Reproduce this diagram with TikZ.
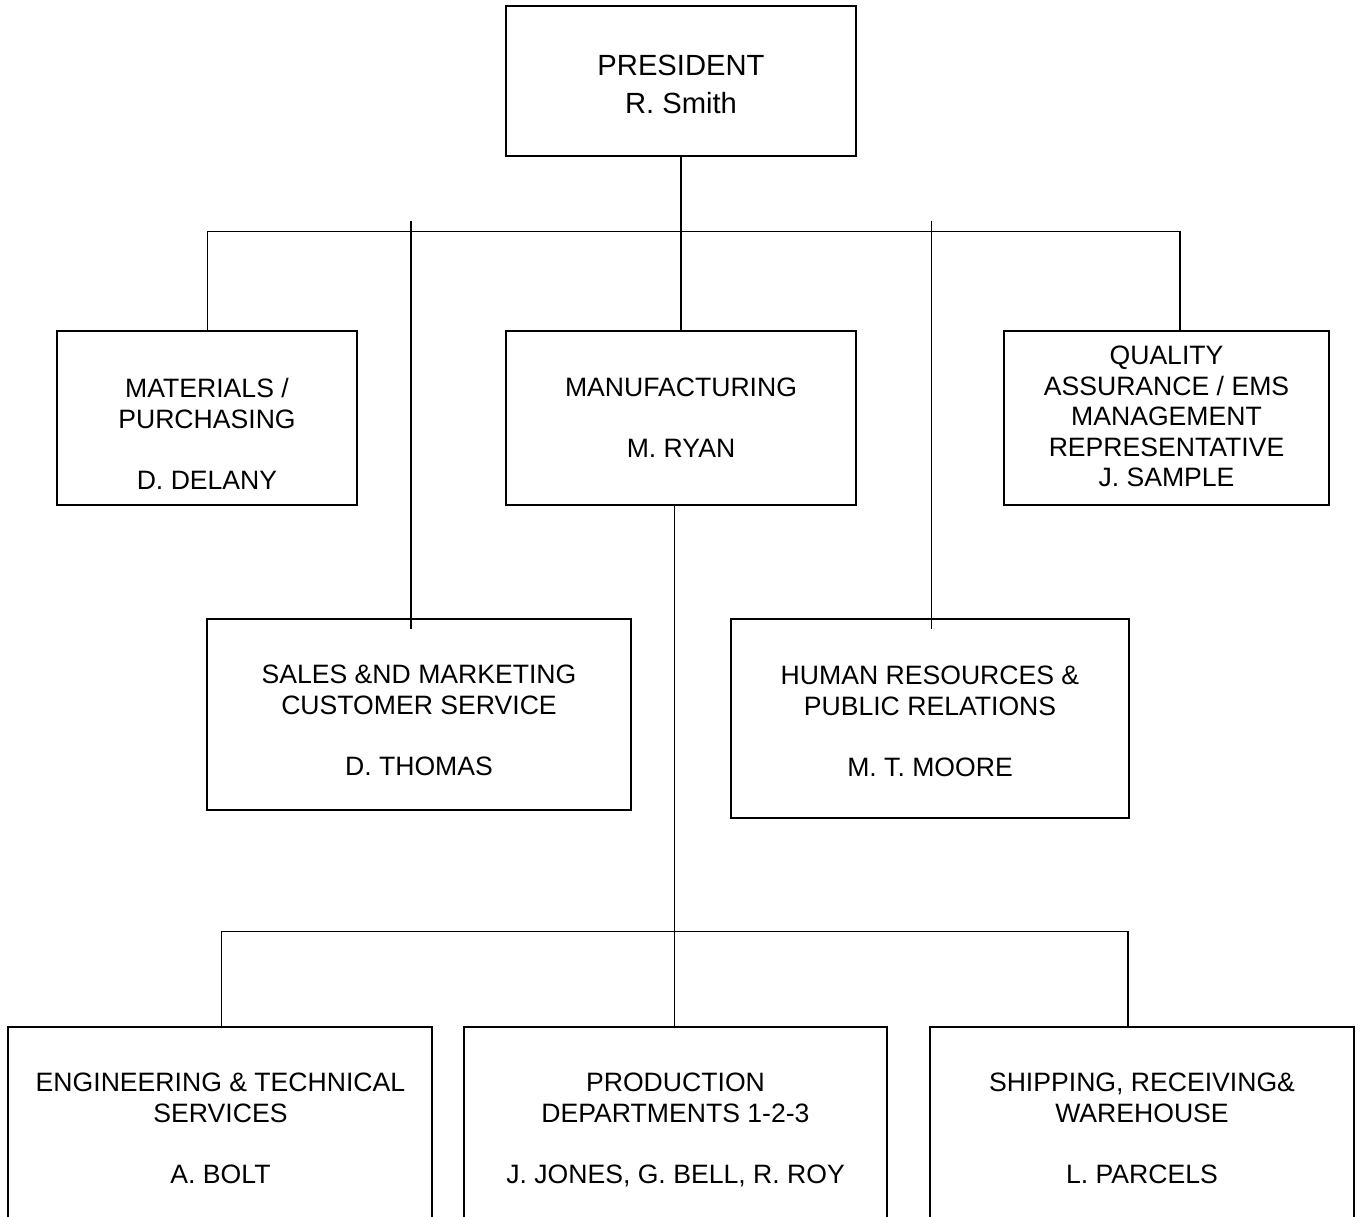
\documentclass[tikz,border=0pt]{standalone}
\usepackage{fontspec}
\setmainfont{Liberation Sans}
\usetikzlibrary{fit}
\begin{document}
\begin{tikzpicture}[x=0.5pt,y=-0.5pt,
  box/.style={draw, line width=0.75pt, inner sep=0pt},
  conn/.style={line width=0.75pt},
  lbl/.style={align=center, anchor=north, inner sep=0pt, font=\fontsize{13.3}{15.25}\selectfont},
  biglbl/.style={align=center, anchor=north, inner sep=0pt, font=\fontsize{14.6}{18.75}\selectfont}]
\useasboundingbox (0,0) rectangle (1360,1216);
\clip (0,0) rectangle (1360,1216);
\fill[white] (0,0) rectangle (1360,1216);

% boxes
\node[box, fit={(506,6) (856,156)}] (pres) {};
\node[box, fit={(57,331) (357,505)}] (mat) {};
\node[box, fit={(506,331) (856,505)}] (manuf) {};
\node[box, fit={(1004,331) (1329,505)}] (qa) {};
\node[box, fit={(207,619) (631,810)}] (sales) {};
\node[box, fit={(731,619) (1129,818)}] (hr) {};
\node[box, fit={(8,1027) (432,1240)}] (eng) {};
\node[box, fit={(464,1027) (887,1240)}] (prod) {};
\node[box, fit={(930,1027) (1354,1240)}] (ship) {};

% texts
\node[biglbl] (presT) at (681,54.8) {PRESIDENT\\R. Smith};
\node[lbl] (matT) at (207,378) {MATERIALS /\\PURCHASING\\[15.25pt]D. DELANY};
\node[lbl] (manufT) at (681,378) {MANUFACTURING\\[15.25pt]M. RYAN};
\node[lbl] (qaT) at (1166.5,346) {QUALITY\\ASSURANCE / EMS\\MANAGEMENT\\REPRESENTATIVE\\J. SAMPLE};
\node[lbl] (salesT) at (419,665) {SALES \&ND MARKETING\\CUSTOMER SERVICE\\[15.25pt]D. THOMAS};
\node[lbl] (hrT) at (930,666) {HUMAN RESOURCES \&\\PUBLIC RELATIONS\\[15.25pt]M. T. MOORE};
\node[lbl] (engT) at (220.5,1073) {ENGINEERING \& TECHNICAL\\SERVICES\\[15.25pt]A. BOLT};
\node[lbl] (prodT) at (675.5,1073) {PRODUCTION\\DEPARTMENTS 1-2-3\\[15.25pt]J. JONES, G. BELL, R. ROY};
\node[lbl] (shipT) at (1142,1073) {SHIPPING, RECEIVING\&\\WAREHOUSE\\[15.25pt]L. PARCELS};

% coordinates
\coordinate (hl) at (207.3,231.5);
\coordinate (hr) at (1180,231.5);
\coordinate (st) at (411,220.5);
\coordinate (se) at (411,629);
\coordinate (ht) at (931.7,220.5);
\coordinate (he) at (931.7,629);
\coordinate (mx) at (674.5,931.5);
\coordinate (bl) at (221.5,931.5);
\coordinate (br) at (1128,931.5);

% connectors
\draw[conn] (pres.south) -- (pres.south |- manuf.north);
\draw[conn] (mat.north -| hl) -- (hl) -- (hr) -- (hr |- qa.north);
\draw[conn] (st) -- (se);
\draw[conn] (ht) -- (he);
\draw[conn] (mx |- manuf.south) -- (mx |- prod.north);
\draw[conn] (bl |- eng.north) -- (bl) -- (br) -- (br |- ship.north);
\end{tikzpicture}
\end{document}
